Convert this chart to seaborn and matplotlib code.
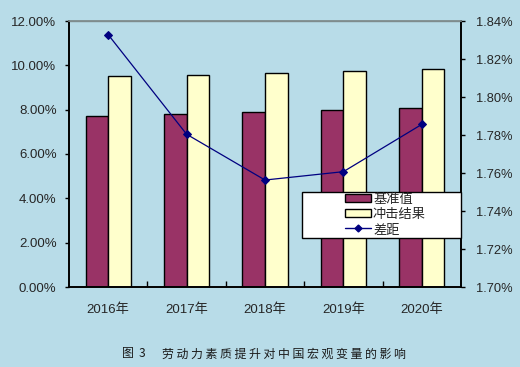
import numpy as np
import pandas as pd
import matplotlib
matplotlib.use("Agg")
import matplotlib.pyplot as plt
import seaborn as sns
from matplotlib.patches import Patch, Rectangle
from matplotlib.lines import Line2D
from matplotlib.ticker import FuncFormatter, MultipleLocator

years = ["2016年", "2017年", "2018年", "2019年", "2020年"]
baseline = [7.70, 7.80, 7.88, 7.98, 8.06]
impact = [9.50, 9.55, 9.64, 9.73, 9.82]
diff = [1.8328, 1.7804, 1.7563, 1.7607, 1.7856]
series_names = ["基准值", "冲击结果", "差距"]
caption_label = "图 3"
caption_title = "劳动力素质提升对中国宏观变量的影响"

BG = "#b8dce8"
C_BASE = "#993366"
C_IMP = "#ffffcc"
C_LINE = "#000080"

sns.set_theme(style="white")
plt.rcParams["font.family"] = ["Liberation Sans", "Noto Sans CJK SC"]

df = pd.DataFrame({
    "year": years * 2,
    "value": baseline + impact,
    "series": [series_names[0]] * len(years) + [series_names[1]] * len(years),
})

fig = plt.figure(figsize=(5.2, 3.67), dpi=100, facecolor=BG)
ax = fig.add_axes([69 / 520, 1 - 287 / 367, 392 / 520, 266 / 367])
ax.set_facecolor(BG)

sns.barplot(data=df, x="year", y="value", hue="series", ax=ax,
            palette=[C_BASE, C_IMP], width=0.575, gap=0,
            edgecolor="black", linewidth=1.0, saturation=1, legend=False)

ax.set_xlim(-0.5, 4.5)
ax.set_ylim(0, 12)
ax.yaxis.set_major_locator(MultipleLocator(2))
ax.yaxis.set_major_formatter(FuncFormatter(lambda v, p: f"{v:.2f}%"))
ax.set_xlabel("")
ax.set_ylabel("")
ax.tick_params(axis="y", which="major", direction="out", length=3, width=1,
               color="black", labelsize=9.5, pad=6, left=True)
ax.set_xticks(range(len(years)))
ax.set_xticklabels(years)
ax.tick_params(axis="x", which="major", length=0, pad=12, labelsize=9.5)
ax.set_xticks(np.arange(0.5, len(years) - 0.5, 1.0), minor=True)
ax.tick_params(axis="x", which="minor", direction="in", length=4, width=1,
               color="black", bottom=True)
for s in ["left", "bottom", "right"]:
    ax.spines[s].set_color("black")
    ax.spines[s].set_linewidth(1.2)
ax.spines["top"].set_color("#7f8c8d")
ax.spines["top"].set_linewidth(1.0)
ax.grid(False)

ax2 = ax.twinx()
sns.lineplot(x=np.arange(len(years)), y=diff, ax=ax2, color=C_LINE,
             linewidth=0.9, marker="D", markersize=4.5, markeredgecolor=C_LINE)
ax2.set_ylim(1.70, 1.84)
ax2.yaxis.set_major_locator(MultipleLocator(0.02))
ax2.yaxis.set_major_formatter(FuncFormatter(lambda v, p: f"{v:.2f}%"))
ax2.tick_params(axis="y", which="major", direction="out", length=3, width=1,
                color="black", labelsize=9.3, pad=8, right=True)
ax2.set_xlim(-0.5, 4.5)
for s in ["left", "bottom", "right"]:
    ax2.spines[s].set_color("black")
    ax2.spines[s].set_linewidth(1.2)
ax2.spines["top"].set_color("#7f8c8d")
ax2.grid(False)

# legend frame (white box, black border) like the reference
lx0, ly0, lw, lh = 0.594, 0.184, 0.406, 0.175
ax2.add_patch(Rectangle((lx0, ly0), lw, lh, transform=ax2.transAxes,
                        facecolor="white", edgecolor="black", linewidth=1.0,
                        zorder=9, clip_on=False))
handles = [
    Patch(facecolor=C_BASE, edgecolor="black", linewidth=1.0),
    Patch(facecolor=C_IMP, edgecolor="black", linewidth=1.0),
    Line2D([], [], color=C_LINE, linewidth=1.0, marker="D", markersize=3.5),
]
leg = ax2.legend(handles, series_names, loc="center",
                 bbox_to_anchor=(lx0 + lw / 2 + 0.01, ly0 + lh / 2),
                 fontsize=9.5, frameon=False,
                 handlelength=2.0, handleheight=0.55, handletextpad=0.15,
                 labelspacing=0.22, borderpad=0.0, borderaxespad=0)
leg.set_zorder(10)

cap_font = dict(fontsize=8.6, family=["Noto Sans CJK SC", "DejaVu Sans"],
                color="#1a1a1a", va="center", ha="left")
cap_y = 1 - 354 / 367
fig.text(122 / 520, cap_y, "  ".join(caption_label.split()), **cap_font)
fig.text(162 / 520, cap_y, " ".join(caption_title), **cap_font)

fig.savefig("out.png", dpi=100, facecolor=BG)
